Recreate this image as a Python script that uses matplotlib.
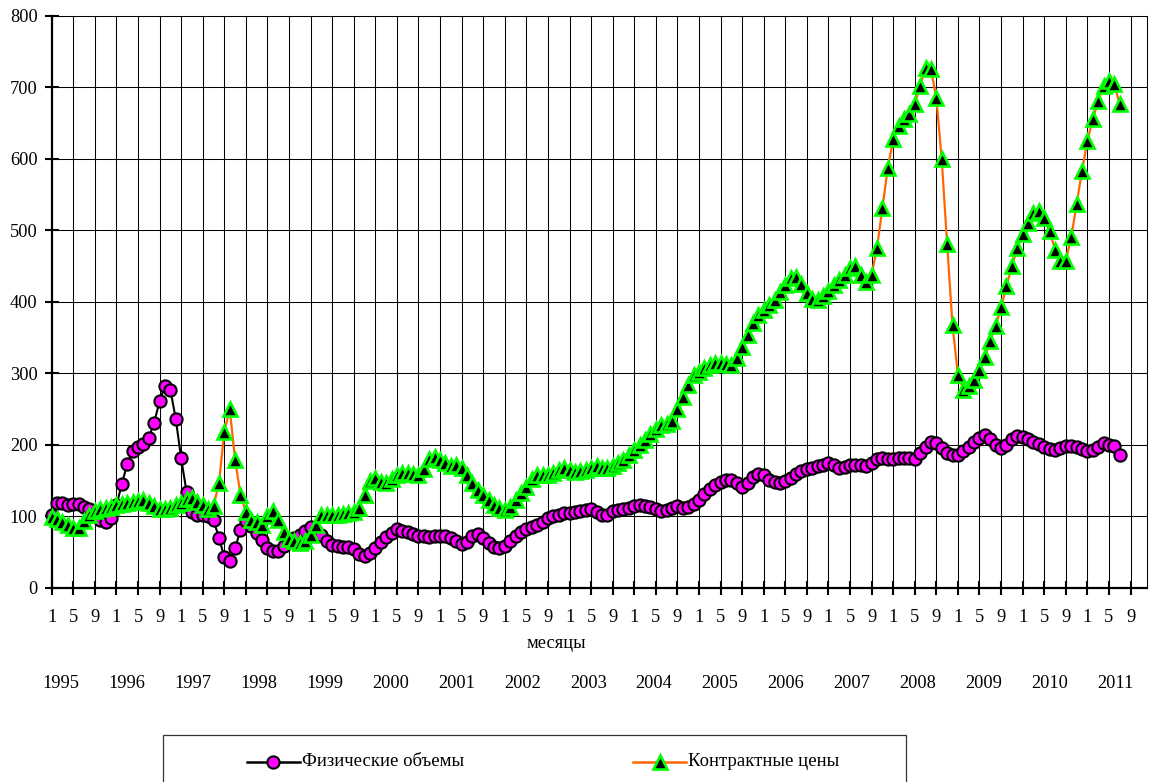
import matplotlib
matplotlib.use("Agg")
import matplotlib.pyplot as plt
from matplotlib.lines import Line2D
from matplotlib.patches import Rectangle

plt.rcParams['font.family'] = ['Liberation Serif', 'DejaVu Serif']

# ---- data (monthly, Jan 1995 .. Jul 2011) ----
phys_volumes = [
    101, 118, 119, 116, 117, 117, 113, 110, 101, 95, 92, 97,          # 1995
    115, 145, 173, 191, 197, 201, 210, 231, 261, 282, 277, 236,       # 1996
    181, 134, 106, 101, 102, 100, 95, 70, 43, 37, 55, 81,             # 1997
    93, 86, 77, 67, 56, 51, 52, 58, 65, 70, 74, 79,                   # 1998
    85, 80, 74, 66, 60, 58, 57, 57, 54, 47, 44, 48,                   # 1999
    56, 64, 71, 77, 82, 80, 78, 75, 73, 72, 71, 72,                   # 2000
    73, 72, 70, 66, 61, 64, 72, 75, 70, 63, 57, 55,                   # 2001
    59, 66, 73, 78, 82, 85, 88, 92, 97, 100, 102, 104,                # 2002
    105, 106, 107, 109, 110, 106, 102, 101, 107, 109, 110, 112,       # 2003
    114, 116, 114, 113, 110, 107, 109, 112, 114, 112, 113, 117,       # 2004
    123, 131, 138, 144, 148, 151, 150, 146, 141, 146, 155, 159,       # 2005
    157, 151, 148, 147, 149, 154, 159, 163, 166, 168, 170, 172,       # 2006
    174, 171, 168, 169, 171, 172, 171, 170, 174, 180, 182, 180,       # 2007
    180, 181, 182, 181, 180, 188, 197, 204, 202, 196, 189, 186,       # 2008
    185, 191, 197, 204, 210, 213, 208, 200, 196, 200, 208, 212,       # 2009
    211, 208, 204, 201, 197, 194, 193, 195, 198, 198, 197, 194,       # 2010
    191, 193, 197, 202, 200, 198, 185,                                # 2011
]
contract_prices = [
    99, 96, 92, 88, 84, 83, 93, 102, 107, 110, 112, 113,              # 1995
    115, 117, 118, 120, 121, 123, 119, 114, 110, 110, 112, 115,       # 1996
    118, 124, 126, 120, 115, 110, 114, 146, 218, 250, 179, 130,       # 1997
    106, 95, 92, 88, 100, 107, 95, 78, 68, 65, 63, 66,                # 1998
    74, 88, 101, 101, 101, 102, 103, 104, 106, 112, 130, 149,         # 1999
    154, 148, 147, 152, 158, 161, 160, 159, 158, 166, 180, 183,       # 2000
    178, 174, 170, 172, 168, 158, 147, 137, 129, 122, 116, 111,       # 2001
    109, 113, 122, 132, 141, 152, 158, 157, 158, 160, 164, 168,       # 2002
    165, 162, 163, 165, 168, 170, 167, 168, 170, 174, 179, 186,       # 2003
    193, 200, 207, 215, 222, 227, 229, 233, 250, 267, 284, 297,       # 2004
    302, 307, 311, 314, 314, 313, 312, 321, 336, 353, 370, 381,       # 2005
    389, 395, 403, 413, 423, 433, 435, 425, 412, 404, 403, 408,       # 2006
    415, 423, 430, 438, 447, 450, 438, 428, 438, 475, 531, 587,       # 2007
    627, 646, 655, 662, 676, 702, 727, 725, 685, 599, 481, 367,       # 2008
    298, 277, 282, 291, 305, 322, 345, 366, 392, 422, 450, 475,       # 2009
    494, 510, 524, 527, 517, 499, 473, 457, 457, 490, 536, 583,       # 2010
    625, 655, 681, 702, 708, 704, 676,                                # 2011
]
month_tick_labels = ["1", "5", "9"]
years = [str(y) for y in range(1995, 2012)]
series_names = ["Физические объемы", "Контрактные цены"]
y_ticks = list(range(0, 801, 100))

FS = 13.2
LFS = 13.5

# ---- figure ----
W, H = 1151, 782
fig = plt.figure(figsize=(W / 100, H / 100), dpi=100)
L, R, T, B = 51.7, 1146.7, 15.7, 587.7
ax = fig.add_axes([L / W, 1 - B / H, (R - L) / W, (B - T) / H])

n_months = len(years) * 12
x = list(range(len(phys_volumes)))

circle_style = dict(marker='o', ms=8.8, mfc='#FF00FF', mec='black', mew=1.5)
tri_style = dict(marker='^', ms=9.6, mfc='black', mec='#00FF00', mew=1.9)

ax.plot(x, phys_volumes, color='black', lw=1.5, zorder=3, clip_on=False,
        **circle_style)
ax.plot(x, contract_prices, color='#FF6600', lw=1.6, zorder=4, clip_on=False,
        **tri_style)

ax.set_xlim(0, n_months - 1)
ax.set_ylim(0, 800)

xt = list(range(0, n_months - 2, 4))
ax.set_xticks(xt)
ax.set_xticklabels([month_tick_labels[k % 3] for k in range(len(xt))])
ax.set_yticks(y_ticks)
ax.set_yticklabels([str(v) for v in y_ticks])

ax.tick_params(axis='both', direction='inout', length=9.4, width=1.5,
               colors='black', labelsize=FS)
ax.tick_params(axis='x', pad=10.5)
ax.tick_params(axis='y', pad=5.5)

ax.grid(True, color='black', linewidth=0.75)
ax.set_axisbelow(True)
for s in ['left', 'bottom']:
    ax.spines[s].set_linewidth(1.6)
for s in ['top', 'right']:
    ax.spines[s].set_linewidth(0.75)

# axis title and year labels
fig.text(556.3 / W, 1 - 644 / H, "месяцы", ha='center', va='center', fontsize=FS)
for k, yr in enumerate(years):
    fig.text((61 + k * 65.9) / W, 1 - 683.5 / H, yr, ha='center', va='center',
             fontsize=FS)

# legend (manual, box runs off the bottom like the reference)
fig.add_artist(Rectangle((162.7 / W, -0.05), (906 - 162.7) / W, 0.05 + 1 - 735 / H,
                         transform=fig.transFigure, fill=False,
                         edgecolor='#333333', linewidth=0.9))
ly = 1 - 761.7 / H
fig.add_artist(Line2D([246.7 / W, 300 / W], [ly, ly], transform=fig.transFigure,
                      color='black', lw=1.8))
fig.add_artist(Line2D([272.7 / W], [ly], transform=fig.transFigure, ls='none',
                      **circle_style))
fig.text(302 / W, ly, series_names[0], ha='left', va='center', fontsize=LFS)
fig.add_artist(Line2D([633 / W, 686 / W], [ly, ly], transform=fig.transFigure,
                      color='#FF6600', lw=1.8))
fig.add_artist(Line2D([660 / W], [ly], transform=fig.transFigure, ls='none',
                      **tri_style))
fig.text(688 / W, ly, series_names[1], ha='left', va='center', fontsize=LFS)

fig.savefig("out.png", dpi=100)
